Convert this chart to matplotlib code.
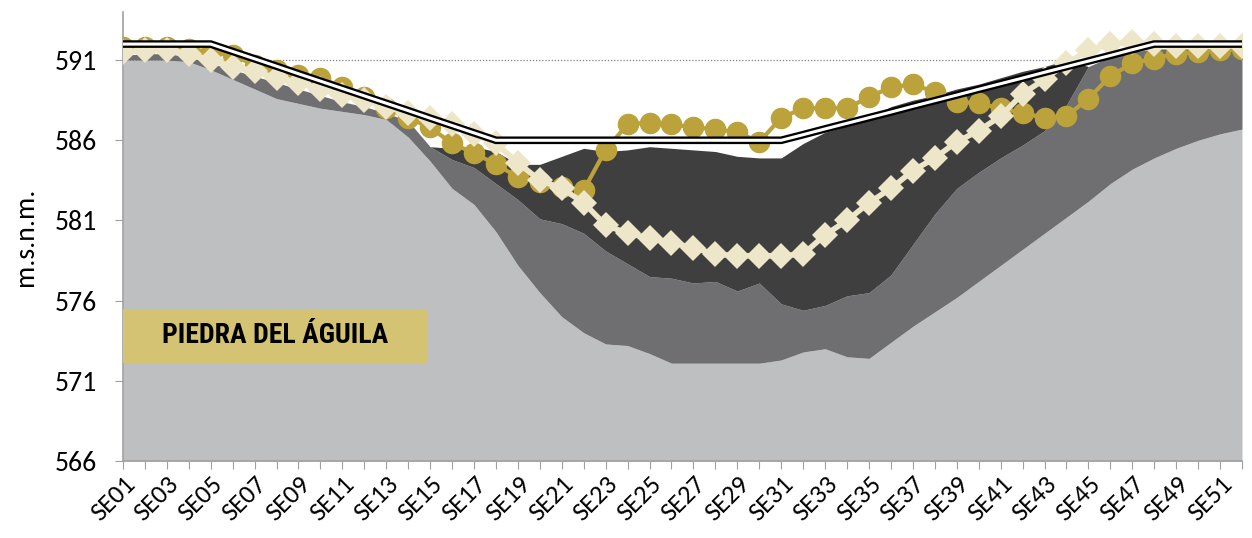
import matplotlib
matplotlib.use("Agg")
import matplotlib.pyplot as plt
import numpy as np
from matplotlib.patches import Rectangle

weeks = ["SE01", "SE02", "SE03", "SE04", "SE05", "SE06", "SE07", "SE08", "SE09", "SE10",
         "SE11", "SE12", "SE13", "SE14", "SE15", "SE16", "SE17", "SE18", "SE19", "SE20",
         "SE21", "SE22", "SE23", "SE24", "SE25", "SE26", "SE27", "SE28", "SE29", "SE30",
         "SE31", "SE32", "SE33", "SE34", "SE35", "SE36", "SE37", "SE38", "SE39", "SE40",
         "SE41", "SE42", "SE43", "SE44", "SE45", "SE46", "SE47", "SE48", "SE49", "SE50",
         "SE51", "SE52"]

# top of light-gray band
band_light = [591.0, 591.0, 591.0, 590.9, 590.4, 589.8, 589.2, 588.6, 588.3, 588.0,
              587.8, 587.6, 587.3, 586.2, 584.7, 583.0, 582.0, 580.3, 578.2, 576.5,
              575.0, 574.0, 573.3, 573.2, 572.7, 572.1, 572.1, 572.1, 572.1, 572.1,
              572.3, 572.8, 573.0, 572.5, 572.4, 573.4, 574.4, 575.3, 576.2, 577.2,
              578.2, 579.2, 580.2, 581.2, 582.2, 583.3, 584.2, 584.9, 585.5, 586.0,
              586.4, 586.7]
# top of mid-gray band
band_mid = [591.3, 591.4, 591.4, 591.2, 590.8, 590.4, 590.0, 589.6, 589.2, 588.8,
            588.4, 588.1, 587.7, 587.2, 585.6, 584.8, 584.3, 583.3, 582.3, 581.1,
            580.8, 580.2, 579.1, 578.3, 577.5, 577.4, 577.1, 577.2, 576.6, 577.1,
            575.8, 575.4, 575.7, 576.3, 576.5, 577.6, 579.5, 581.4, 583.0, 584.0,
            584.9, 585.7, 586.6, 588.2, 590.6, 591.2, 591.5, 591.7, 591.7, 591.7,
            591.7, 591.7]
# top of dark band
band_dark = [591.3, 591.4, 591.4, 591.2, 590.8, 590.4, 590.0, 589.6, 589.2, 588.8,
             588.4, 588.1, 587.7, 587.2, 585.6, 585.5, 585.6, 585.3, 584.5, 584.5,
             585.0, 585.5, 585.3, 585.4, 585.6, 585.5, 585.4, 585.3, 585.0, 584.9,
             584.9, 585.8, 586.5, 586.9, 587.4, 588.1, 588.5, 588.8, 589.2, 589.5,
             589.9, 590.3, 590.6, 591.0, 590.6, 591.2, 591.5, 591.7, 591.7, 591.7,
             591.7, 591.7]
# upper guide curve (double line)
upper_curve = [592.0, 592.0, 592.0, 592.0, 592.0, 591.54, 591.08, 590.62, 590.15, 589.69,
               589.23, 588.77, 588.31, 587.85, 587.38, 586.92, 586.46, 586.0, 586.0, 586.0,
               586.0, 586.0, 586.0, 586.0, 586.0, 586.0, 586.0, 586.0, 586.0, 586.0,
               586.0, 586.35, 586.71, 587.06, 587.41, 587.76, 588.12, 588.47, 588.82, 589.18,
               589.53, 589.88, 590.24, 590.59, 590.94, 591.29, 591.65, 592.0, 592.0, 592.0,
               592.0, 592.0]
# gold series (circles)
level_gold = [591.8, 591.8, 591.8, 591.7, 591.5, 591.3, 590.7, 590.4, 590.1, 589.9,
              589.3, 588.7, 588.0, 587.4, 586.8, 585.8, 585.2, 584.5, 583.7, 583.4,
              583.1, 582.9, 585.4, 587.0, 587.1, 587.0, 586.8, 586.7, 586.5, 585.9,
              587.4, 588.0, 588.0, 588.0, 588.7, 589.3, 589.5, 589.0, 588.4, 588.3,
              588.0, 587.7, 587.4, 587.5, 588.6, 590.0, 590.8, 591.1, 591.4, 591.5,
              591.6, 591.7]
# cream series (diamonds)
level_cream = [591.5, 591.6, 591.6, 591.4, 591.0, 590.6, 590.3, 589.9, 589.6, 589.2,
               588.8, 588.5, 588.1, 587.7, 587.4, 587.0, 586.4, 585.8, 584.6, 583.5,
               583.0, 582.1, 580.7, 580.2, 579.9, 579.6, 579.3, 578.9, 578.8, 578.8,
               578.8, 578.9, 580.1, 581.0, 582.1, 583.0, 584.1, 584.9, 585.9, 586.6,
               587.5, 588.9, 589.8, 590.8, 591.6, 592.0, 592.1, 592.0, 591.9, 591.9,
               591.9, 591.9]
reference_level = 591
y_ticks = [566, 571, 576, 581, 586, 591]
title_text = "PIEDRA DEL ÁGUILA"
y_label = "m.s.n.m."

x = np.arange(len(weeks))
ymin, ymax = 566, 594

axis_font = ["Carlito", "Lato", "DejaVu Sans"]
title_font = ["Roboto Condensed", "PT Sans Narrow", "Archivo Narrow", "DejaVu Sans"]

fig = plt.figure(figsize=(12.52, 5.38), dpi=100)
ax = fig.add_axes([0.0982, 0.1431, 0.8938, 0.8346])

c_light = "#BEBFC1"
c_mid = "#6F6F71"
c_dark = "#3F3F3F"
c_gold = "#BBA23A"
c_cream = "#EEE6C8"

ax.axhline(reference_level, color="#808080", lw=0.9, ls=(0, (1, 1.5)), zorder=0.5)
ax.fill_between(x, ymin, band_light, color=c_light, lw=0, zorder=1)
ax.fill_between(x, band_light, band_mid, color=c_mid, lw=0, zorder=1)
ax.fill_between(x, band_mid, band_dark, color=c_dark, lw=0, zorder=1)

ax.plot(x, level_gold, color=c_gold, lw=3, marker="o", markersize=15.5,
        markeredgewidth=0, zorder=3)
ax.plot(x, level_cream, color=c_cream, lw=4, marker="D", markersize=13,
        markeredgewidth=0, zorder=4)
ax.plot(x, upper_curve, color="black", lw=5.5, solid_capstyle="butt",
        solid_joinstyle="miter", zorder=5)
ax.plot(x, upper_curve, color="white", lw=2.2, solid_capstyle="butt",
        solid_joinstyle="miter", zorder=5.1)

ax.add_patch(Rectangle((0, 572.1), 13.86, 3.4, facecolor="#D4C373",
                       edgecolor="none", zorder=6))
ax.text(6.95, 573.8, title_text, ha="center", va="center", fontsize=20,
        fontweight="bold", family=title_font, color="black", zorder=7)

ax.set_xlim(0, len(weeks) - 1)
ax.set_ylim(ymin, ymax)
ax.set_yticks(y_ticks)
ax.set_yticklabels([str(v) for v in y_ticks], fontsize=20, family=axis_font)
ax.set_xticks(x)
ax.set_xticklabels([w if i % 2 == 0 else "" for i, w in enumerate(weeks)],
                   rotation=45, ha="right", va="top", rotation_mode="anchor",
                   fontsize=19, family=axis_font)
ax.tick_params(axis="x", length=6, color="#A0A0A0", pad=2)
ax.tick_params(axis="y", length=6, color="#A0A0A0", pad=13)
ax.set_ylabel(y_label, fontsize=20, family=axis_font, labelpad=12)
for s in ["top", "right"]:
    ax.spines[s].set_visible(False)
for s in ["left", "bottom"]:
    ax.spines[s].set_color("#A0A0A0")
    ax.spines[s].set_linewidth(1.2)

fig.savefig("out.png", dpi=100)
